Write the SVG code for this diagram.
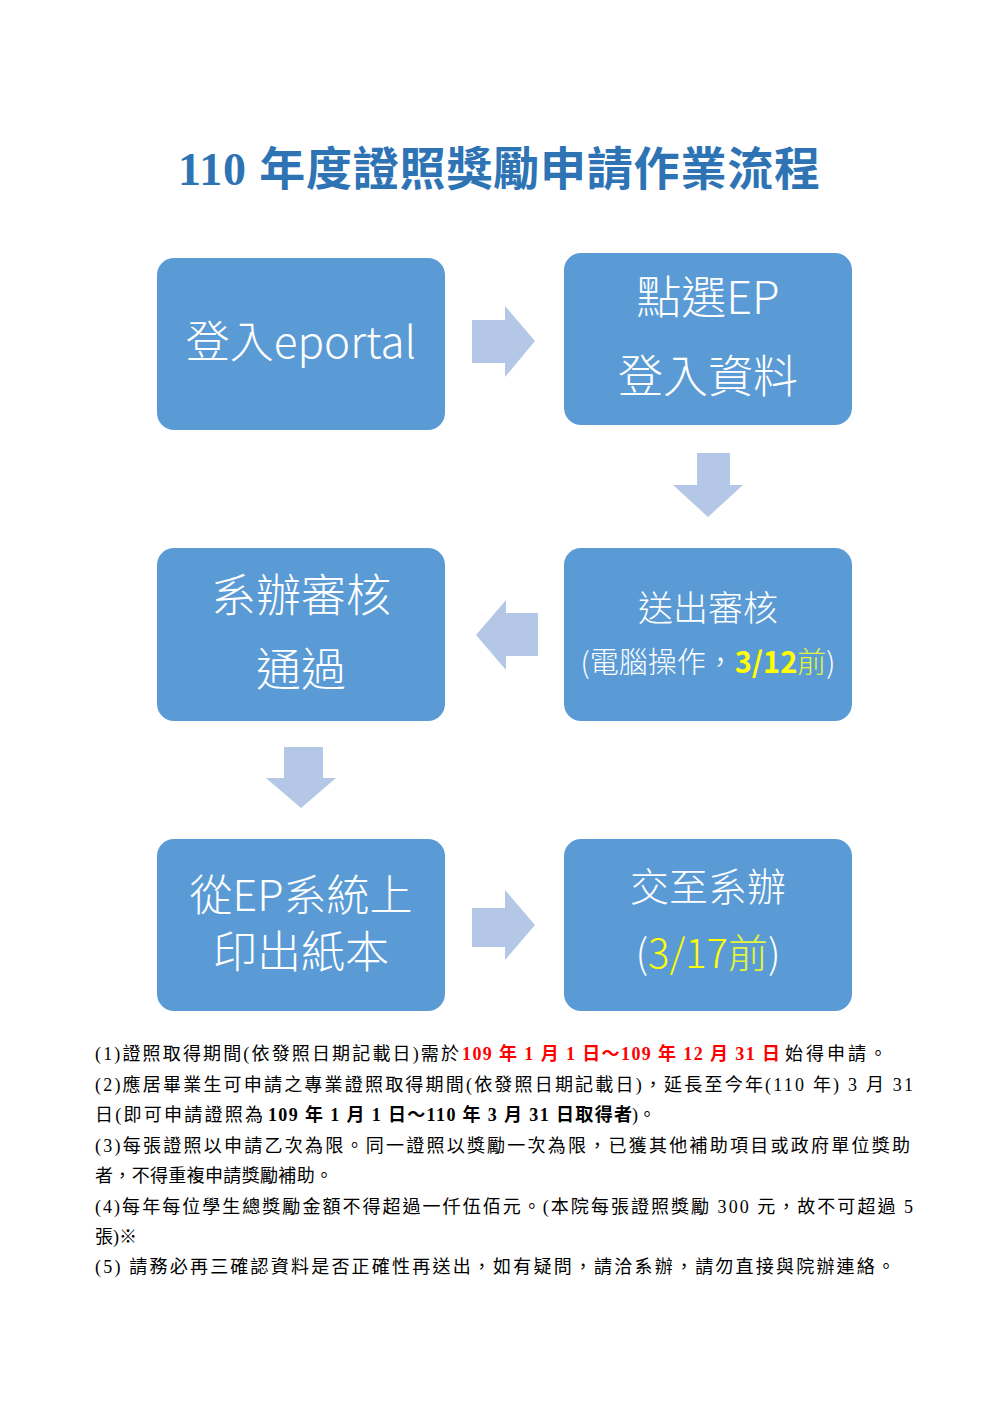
<svg xmlns="http://www.w3.org/2000/svg" width="1000" height="1414" viewBox="0 0 1000 1414">
<style>
.box{fill:#5b9bd5}
.arr{fill:#b4c7e7}
.bt{font-family:"Noto Sans CJK TC","Noto Sans",sans-serif;fill:#ffffff;text-anchor:middle;font-weight:300}
.yl{fill:#ffff00}
.yg{fill:#e2f53a}
.title{font-family:"Liberation Serif","Noto Sans CJK TC",serif;font-size:46px;font-weight:bold;fill:#2e74b5}
.nt{font-family:"Liberation Serif","Noto Sans CJK TC",serif;font-size:18px;fill:#000000}
.red{fill:#ff0000;font-weight:bold}
.b{font-weight:bold}
</style>
<rect width="1000" height="1414" fill="#ffffff"/>
<text class="title" x="178" y="185" textLength="642" lengthAdjust="spacing">110 年度證照獎勵申請作業流程</text>

<g id="connectors">
<polygon class="arr" points="472,320 505,320 505,306 535,341 505,377 505,363 472,363"/>
<polygon class="arr" points="697,453 730,453 730,485 743,485 708,517 673,485 697,485"/>
<polygon class="arr" points="538,613 506,613 506,600 476,635 506,670 506,656 538,656"/>
<polygon class="arr" points="284,747 323,747 323,778 336,778 301,808 266,778 284,778"/>
<polygon class="arr" points="472,908 505,908 505,890 535,925 505,960 505,947 472,947"/>
</g>

<g id="n1">
<rect class="box" x="157" y="258" width="288" height="172" rx="17"/>
<text class="bt" x="301" y="358" font-size="44">登入eportal</text>
</g>
<g id="n2">
<rect class="box" x="564" y="253" width="288" height="172" rx="17"/>
<text class="bt" x="708" y="314" font-size="45">點選EP</text>
<text class="bt" x="708" y="393" font-size="45">登入資料</text>
</g>
<g id="n3">
<rect class="box" x="157" y="548" width="288" height="173" rx="17"/>
<text class="bt" x="301" y="612" font-size="45">系辦審核</text>
<text class="bt" x="301" y="686" font-size="45">通過</text>
</g>
<g id="n4">
<rect class="box" x="564" y="548" width="288" height="173" rx="17"/>
<text class="bt" x="708" y="621" font-size="35">送出審核</text>
<text class="bt" x="708" y="673" font-size="29">(電腦操作，<tspan class="yl" font-weight="bold">3/12</tspan><tspan class="yg">前</tspan>)</text>
</g>
<g id="n5">
<rect class="box" x="157" y="839" width="288" height="172" rx="17"/>
<text class="bt" x="301" y="911" font-size="43">從EP系統上</text>
<text class="bt" x="301" y="968" font-size="44">印出紙本</text>
</g>
<g id="n6">
<rect class="box" x="564" y="839" width="288" height="172" rx="17"/>
<text class="bt" x="708" y="901" font-size="39">交至系辦</text>
<text class="bt" x="708" y="968" font-size="40">(<tspan class="yl">3/17</tspan><tspan class="yg">前</tspan>)</text>
</g>

<g id="notes">
<text class="nt" y="1060"><tspan x="95" textLength="364" lengthAdjust="spacing">(1)證照取得期間(依發照日期記載日)需於</tspan><tspan class="red" x="462" textLength="318" lengthAdjust="spacing">109 年 1 月 1 日～109 年 12 月 31 日</tspan><tspan x="785" textLength="102" lengthAdjust="spacing">始得申請。</tspan></text>
<text class="nt" x="95" y="1091" textLength="818" lengthAdjust="spacing">(2)應居畢業生可申請之專業證照取得期間(依發照日期記載日)，延長至今年(110 年) 3 月 31</text>
<text class="nt" y="1121"><tspan x="95" textLength="168" lengthAdjust="spacing">日(即可申請證照為</tspan><tspan class="b" x="268" textLength="364" lengthAdjust="spacing">109 年 1 月 1 日～110 年 3 月 31 日取得者</tspan><tspan x="632">)。</tspan></text>
<text class="nt" x="95" y="1152" textLength="815" lengthAdjust="spacing">(3)每張證照以申請乙次為限。同一證照以獎勵一次為限，已獲其他補助項目或政府單位獎助</text>
<text class="nt" x="95" y="1182" textLength="238" lengthAdjust="spacing">者，不得重複申請獎勵補助。</text>
<text class="nt" x="95" y="1213" textLength="818" lengthAdjust="spacing">(4)每年每位學生總獎勵金額不得超過一仟伍佰元。(本院每張證照獎勵 300 元，故不可超過 5</text>
<text class="nt" x="95" y="1243">張)※</text>
<text class="nt" x="95" y="1273" textLength="800" lengthAdjust="spacing">(5) 請務必再三確認資料是否正確性再送出，如有疑問，請洽系辦，請勿直接與院辦連絡。</text>
</g>
</svg>
